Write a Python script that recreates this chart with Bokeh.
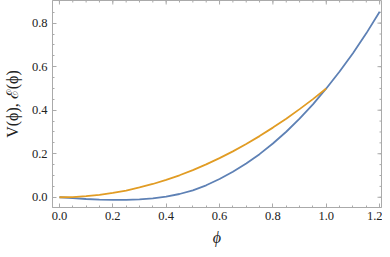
import math
from bokeh.plotting import figure
from bokeh.models import Range1d, FixedTicker, NumeralTickFormatter
from bokeh.embed import file_html
from bokeh.resources import INLINE

# V(phi) curve (blue)
phi_v = [0.0, 0.05, 0.1, 0.15, 0.2, 0.25, 0.3, 0.35, 0.4, 0.45, 0.5, 0.55, 0.6,
         0.65, 0.7, 0.75, 0.8, 0.85, 0.9, 0.95, 1.0, 1.05, 1.1, 1.15, 1.2]
v_vals = [0.0, -0.004, -0.008, -0.011, -0.012, -0.012, -0.010, -0.005, 0.003, 0.015,
          0.032, 0.055, 0.084, 0.117, 0.155, 0.198, 0.247, 0.301, 0.361, 0.427,
          0.5, 0.578, 0.662, 0.753, 0.852]

# E(phi) curve (orange)
phi_e = [0.0, 0.05, 0.1, 0.15, 0.2, 0.25, 0.3, 0.35, 0.4, 0.45, 0.5, 0.55, 0.6,
         0.65, 0.7, 0.75, 0.8, 0.85, 0.9, 0.95, 1.0]
e_vals = [0.0, 0.001, 0.005, 0.011, 0.02, 0.031, 0.045, 0.061, 0.08, 0.101, 0.125,
          0.151, 0.18, 0.211, 0.245, 0.281, 0.32, 0.361, 0.405, 0.451, 0.5]

x_ticks = [0.0, 0.2, 0.4, 0.6, 0.8, 1.0, 1.2]
y_ticks = [0.0, 0.2, 0.4, 0.6, 0.8]
x_minor = [i * 0.05 for i in range(0, 25)]
y_minor = [i * 0.05 - 0.05 for i in range(0, 19)]

X0, X1 = -0.026, 1.207
Y0, Y1 = -0.047, 0.904

FRAME = "#aaaaaa"
FONT = "Liberation Serif"
TXT = "#222222"

p = figure(width=382, height=249, output_backend="svg", toolbar_location=None,
           x_range=Range1d(X0, X1), y_range=Range1d(Y0, Y1),
           min_border_left=48, min_border_right=1, min_border_top=0,
           min_border_bottom=42)
p.grid.visible = False
p.outline_line_color = FRAME
p.outline_line_width = 1
p.background_fill_color = "white"
p.border_fill_color = "white"

def style(ax):
    ax.axis_line_color = FRAME
    ax.major_tick_line_color = FRAME
    ax.minor_tick_line_color = FRAME
    ax.major_tick_in = 4
    ax.major_tick_out = 0
    ax.minor_tick_in = 2
    ax.minor_tick_out = 0
    ax.formatter = NumeralTickFormatter(format="0.0")
    ax.major_label_text_font = FONT
    ax.major_label_text_font_size = "12.5px"
    ax.major_label_text_color = TXT

xb = p.xaxis[0]
xb.ticker = FixedTicker(ticks=x_ticks, minor_ticks=x_minor)
style(xb)
xb.major_label_standoff = 4
xb.axis_label = "ϕ"
xb.axis_label_text_font = FONT
xb.axis_label_text_font_style = "italic"
xb.axis_label_text_font_size = "16px"
xb.axis_label_text_color = TXT
xb.axis_label_standoff = 6

yl = p.yaxis[0]
yl.ticker = FixedTicker(ticks=y_ticks, minor_ticks=y_minor)
style(yl)
yl.major_label_standoff = 5
yl.axis_label = "V(ϕ), ℰ(ϕ)"
yl.axis_label_text_font = FONT
yl.axis_label_text_font_style = "normal"
yl.axis_label_text_font_size = "16px"
yl.axis_label_text_color = TXT
yl.axis_label_standoff = 8

# mirror ticks on the top and right edges of the frame (clipped to the frame)
p.scatter(x_ticks, [Y1] * len(x_ticks), marker="dash", angle=math.pi / 2, size=8,
          line_color=FRAME, line_width=1)
p.scatter(x_minor, [Y1] * len(x_minor), marker="dash", angle=math.pi / 2, size=4,
          line_color=FRAME, line_width=1)
p.scatter([X1] * len(y_ticks), y_ticks, marker="dash", size=8,
          line_color=FRAME, line_width=1)
p.scatter([X1] * len(y_minor), y_minor, marker="dash", size=4,
          line_color=FRAME, line_width=1)

p.line(phi_v, v_vals, line_color="#5E81B5", line_width=1.8)
p.line(phi_e, e_vals, line_color="#E19C24", line_width=1.8)

open("out.html", "w").write(file_html(p, INLINE))
